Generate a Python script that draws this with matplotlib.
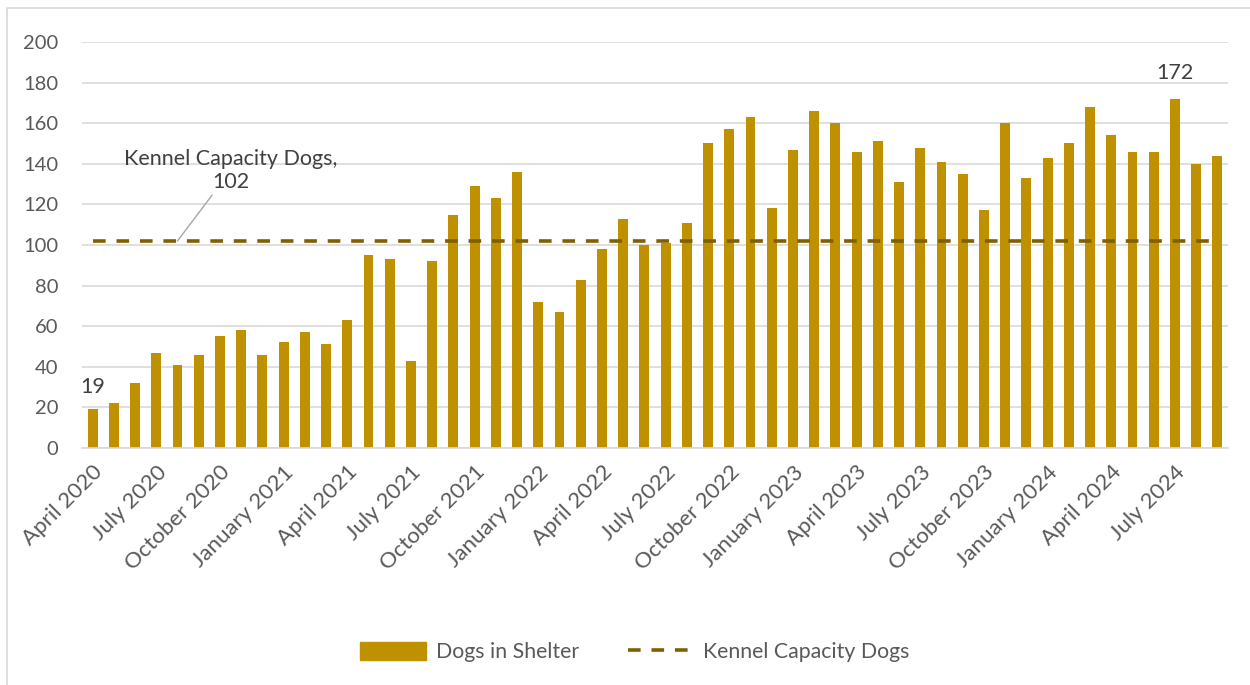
import matplotlib
matplotlib.use('Agg')
import matplotlib.pyplot as plt
from matplotlib.patches import Rectangle, Patch
from matplotlib.lines import Line2D
import numpy as np

plt.rcParams['font.family'] = ['Lato', 'DejaVu Sans']

# Monthly counts, April 2020 .. September 2024
months = [
    'April 2020', 'May 2020', 'June 2020', 'July 2020', 'August 2020', 'September 2020',
    'October 2020', 'November 2020', 'December 2020',
    'January 2021', 'February 2021', 'March 2021', 'April 2021', 'May 2021', 'June 2021',
    'July 2021', 'August 2021', 'September 2021', 'October 2021', 'November 2021', 'December 2021',
    'January 2022', 'February 2022', 'March 2022', 'April 2022', 'May 2022', 'June 2022',
    'July 2022', 'August 2022', 'September 2022', 'October 2022', 'November 2022', 'December 2022',
    'January 2023', 'February 2023', 'March 2023', 'April 2023', 'May 2023', 'June 2023',
    'July 2023', 'August 2023', 'September 2023', 'October 2023', 'November 2023', 'December 2023',
    'January 2024', 'February 2024', 'March 2024', 'April 2024', 'May 2024', 'June 2024',
    'July 2024', 'August 2024', 'September 2024',
]
dogs_in_shelter = [
    19, 22, 32, 47, 41, 46, 55, 58, 46,
    52, 57, 51, 63, 95, 93, 43, 92, 115, 129, 123, 136,
    72, 67, 83, 98, 113, 100, 101, 111, 150, 157, 163, 118,
    147, 166, 160, 146, 151, 131, 148, 141, 135, 117, 160, 133,
    143, 150, 168, 154, 146, 146, 172, 140, 144,
]
kennel_capacity = 102
yticks = list(range(0, 201, 20))

bar_color = '#BF9000'
line_color = '#7F6000'
text_color = '#595959'
dash = (0, (3.5, 3.0))

fig = plt.figure(figsize=(12.5, 6.85), dpi=100)
fig.patches.append(Rectangle((0.0056, -0.01), 1.0, 0.998, transform=fig.transFigure,
                             fill=False, edgecolor='#D9D9D9', linewidth=1.2))

ax = fig.add_axes([0.0656, 0.346, 0.9168, 0.5927])
x = np.arange(len(months))
ax.bar(x, dogs_in_shelter, width=0.47, color=bar_color, zorder=2)
ax.plot(x, [kennel_capacity] * len(x), linestyle=dash, color=line_color,
        linewidth=2.6, zorder=3)

ax.set_xlim(-0.5, len(months) - 0.5)
ax.set_ylim(0, 200)
ax.set_yticks(yticks)
ax.grid(axis='y', color='#D9D9D9', linewidth=1.2, zorder=0)
for side in ['top', 'right', 'left']:
    ax.spines[side].set_visible(False)
ax.spines['bottom'].set_color('#D9D9D9')
ax.spines['bottom'].set_linewidth(1.2)
ax.tick_params(axis='both', length=0, colors=text_color)
ax.tick_params(axis='y', labelsize=14.5, pad=17)

tick_idx = list(range(0, len(months), 3))
ax.set_xticks(tick_idx)
ax.set_xticklabels([months[i] for i in tick_idx], rotation=45, ha='right',
                   rotation_mode='anchor')
ax.tick_params(axis='x', labelsize=16, pad=10)

# data labels
ax.text(0, dogs_in_shelter[0] + 6, str(dogs_in_shelter[0]), ha='center', va='bottom',
        fontsize=15.5, color='#404040')
imax = int(np.argmax(dogs_in_shelter))
ax.text(imax, dogs_in_shelter[imax] + 8, str(dogs_in_shelter[imax]), ha='center',
        va='bottom', fontsize=15.5, color='#404040')

# capacity callout
ax.annotate('Kennel Capacity Dogs,\n102', xy=(4.0, kennel_capacity), xytext=(6.5, 126),
            ha='center', va='bottom', fontsize=15.5, color='#404040', linespacing=1.2,
            arrowprops=dict(arrowstyle='-', color='#A6A6A6', linewidth=1.0,
                            shrinkA=0, shrinkB=0))

handles = [Patch(facecolor=bar_color, edgecolor=bar_color, label='Dogs in Shelter'),
           Line2D([0], [0], color=line_color, linestyle=dash, linewidth=2.6,
                  label='Kennel Capacity Dogs')]
fig.legend(handles=handles, loc='center', bbox_to_anchor=(0.508, 0.048), ncol=2,
           frameon=False, fontsize=15.3, handlelength=3.1, handleheight=0.9,
           handletextpad=0.45, columnspacing=2.3, labelcolor=text_color)

fig.savefig('out.png', dpi=100)
